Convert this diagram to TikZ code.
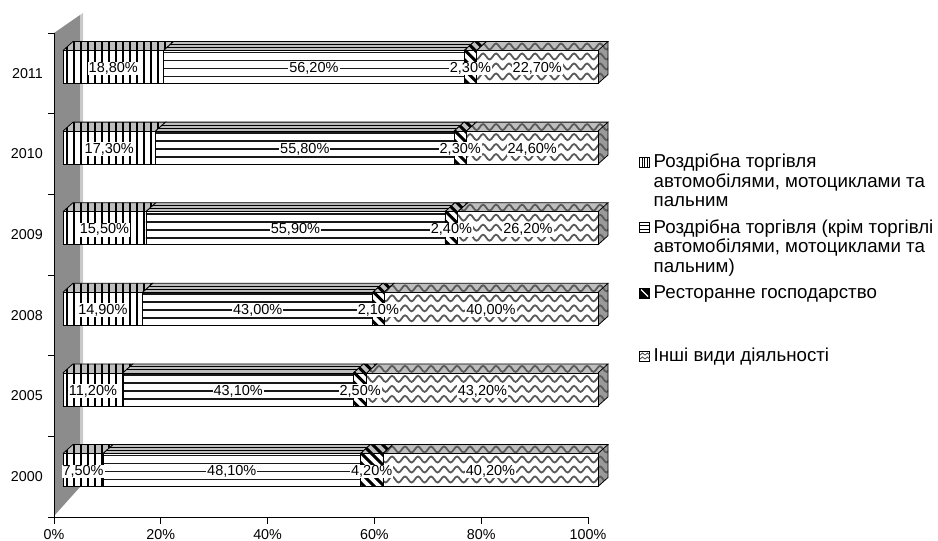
\documentclass[tikz,border=0pt]{standalone}
\usepackage{fontspec}
\setmainfont{Liberation Sans}
\usetikzlibrary{decorations.pathmorphing}
\definecolor{topgray}{HTML}{BEBEBE}
\definecolor{wallgray}{HTML}{8C8C8C}
\definecolor{walllight}{HTML}{C8C8C8}
\definecolor{sidegray}{HTML}{9A9A9A}
\definecolor{wavegray}{HTML}{5A5A5A}
\tikzset{
 edge/.style={black, line width=0.8pt},
 vline/.style={black, line width=1.2pt},
 hline/.style={black!90, line width=1.9pt},
 dline/.style={black, line width=3pt},
 wline/.style={wavegray, line width=1.8pt, decorate, decoration={snake, segment length=13pt, amplitude=3pt}},
 lbl/.style={fill=white, inner sep=1pt, font=\fontsize{14.5}{16}\selectfont},
 axlbl/.style={inner sep=0pt, font=\fontsize{14.3}{16}\selectfont},
 leg/.style={anchor=base west, inner sep=0pt, font=\fontsize{18.7}{20}\selectfont},
}
\newcommand\dpx{10}
\newcommand\dpy{9}
\newcommand\patV[4]{%
 \pgfmathsetmacro\pa{#1+4}\pgfmathsetmacro\pb{#1+11}\pgfmathsetmacro\pc{#2+\dpx+1}%
 \foreach \x in {\pa,\pb,...,\pc}{\draw[vline] (\x,#3-\dpy-1) -- (\x,#4+1);}}
\newcommand\patH[4]{%
 \foreach \k in {0,1,2,3}{\draw[hline] (#1-1,#3+2+8*\k) -- (#2+\dpx+1,#3+2+8*\k);}
 \draw[black, line width=1pt] (#1,#3-3) -- (#2+\dpx,#3-3);
 \draw[black, line width=1pt] (#1,#3-6) -- (#2+\dpx,#3-6);}
\newcommand\patD[4]{%
 \pgfmathsetmacro\pa{#1-50}\pgfmathsetmacro\pb{#1-40}\pgfmathsetmacro\pc{#2+\dpx+2}%
 \foreach \x in {\pa,\pb,...,\pc}{\draw[dline] (\x,#3-\dpy-2) -- ++(48,48);}}
\newcommand\patW[4]{%
 \foreach \k in {-1,0,1,2}{\draw[wline] (50,#3+6+10*\k) -- (625,#3+6+10*\k);}}
\newcommand\barseg[6]{%
 \fill[white] (#1,#3) rectangle (#2,#4);
 \fill[topgray] (#1,#3) -- (#1+\dpx,#3-\dpy) -- (#2+\dpx,#3-\dpy) -- (#2,#3) -- cycle;
 \ifnum#6=1 \fill[sidegray] (#2,#3) -- (#2+\dpx,#3-\dpy) -- (#2+\dpx,#4-\dpy) -- (#2,#4) -- cycle;\fi
 \begin{scope}
 \ifnum#6=1
 \clip (#1,#4) -- (#1,#3) -- (#1+\dpx,#3-\dpy) -- (#2+\dpx,#3-\dpy) -- (#2+\dpx,#4-\dpy) -- (#2,#4) -- cycle;
 \else
 \clip (#1,#4) -- (#1,#3) -- (#1+\dpx,#3-\dpy) -- (#2+\dpx,#3-\dpy) -- (#2,#3) -- (#2,#4) -- cycle;
 \fi
 \csname pat#5\endcsname{#1}{#2}{#3}{#4}
 \end{scope}
 \draw[edge] (#1,#3) rectangle (#2,#4);
 \draw[edge] (#1,#3) -- (#1+\dpx,#3-\dpy) -- (#2+\dpx,#3-\dpy) -- (#2,#3);
 \ifnum#6=1 \draw[edge] (#2+\dpx,#3-\dpy) -- (#2+\dpx,#4-\dpy) -- (#2,#4);\fi
}
\newcommand\onebar[9]{%
 \pgfmathsetmacro\xa{63}%
 \pgfmathsetmacro\xb{63+5.35*#3}%
 \pgfmathsetmacro\xc{63+5.35*#4}%
 \pgfmathsetmacro\xd{63+5.35*#5}%
 \pgfmathsetmacro\xz{63+535}%
 \pgfmathsetmacro\yt{#2-16.5}%
 \pgfmathsetmacro\yb{#2+16.5}%
 \barseg{\xa}{\xb}{\yt}{\yb}{V}{0}%
 \barseg{\xb}{\xc}{\yt}{\yb}{H}{0}%
 \barseg{\xc}{\xd}{\yt}{\yb}{D}{0}%
 \barseg{\xd}{\xz}{\yt}{\yb}{W}{1}%
 \node[lbl] (v#1a) at ({(\xa+\xb)/2},#2+1.5) {#6};
 \node[lbl] (v#1b) at ({(\xb+\xc)/2},#2+1.5) {#7};
 \node[lbl] (v#1c) at ({(\xc+\xd)/2},#2+1.5) {#8};
 \node[lbl] (v#1d) at ({(\xd+\xz)/2},#2+1.5) {#9};
}
\begin{document}
\begin{tikzpicture}[x=1pt,y=-1pt]
\useasboundingbox (0,0) rectangle (938,541);
% wall
\fill[wallgray] (54,33) -- (80,15) -- (80,487) -- (54,516) -- cycle;
\fill[walllight] (80,15) -- (83,13) -- (83,485) -- (80,487) -- cycle;
% axes
\draw[black, line width=0.8pt] (54,33) -- (54,517) -- (588,517);
\foreach \k in {0,...,6}{\draw[black, line width=0.8pt] (48,33+80.67*\k) -- (54,33+80.67*\k);}
\foreach \k/\t in {0/0\%,1/20\%,2/40\%,3/60\%,4/80\%,5/100\%}{
 \draw[black, line width=0.8pt] (54+106.8*\k,517) -- ++(0,7);
 \node[axlbl, anchor=base] (x\k) at (54+106.8*\k,539.5) {\t};
}
\foreach \k/\t in {0/2011,1/2010,2/2009,3/2008,4/2005,5/2000}{
 \node[axlbl, anchor=east] (y\t) at (43,73.3+80.67*\k) {\t};
}
% bars
\onebar{2011}{67}{18.8}{75.0}{77.3}{18,80\%}{56,20\%}{2,30\%}{22,70\%}
\onebar{2010}{147.6}{17.3}{73.1}{75.4}{17,30\%}{55,80\%}{2,30\%}{24,60\%}
\onebar{2009}{228.2}{15.5}{71.4}{73.8}{15,50\%}{55,90\%}{2,40\%}{26,20\%}
\onebar{2008}{308.8}{14.9}{57.9}{60.0}{14,90\%}{43,00\%}{2,10\%}{40,00\%}
\onebar{2005}{389.4}{11.2}{54.3}{56.8}{11,20\%}{43,10\%}{2,50\%}{43,20\%}
\onebar{2000}{470}{7.5}{55.6}{59.8}{7,50\%}{48,10\%}{4,20\%}{40,20\%}
% legend markers
\begin{scope}
\draw[black, line width=0.7pt, fill=white] (639.5,157) rectangle (649.5,167);
\foreach \x in {642,644.5,647}{\draw[black, line width=0.8pt] (\x,157) -- (\x,167);}
\end{scope}
\begin{scope}
\draw[black, line width=0.7pt, fill=white] (639.5,222.5) rectangle (649.5,232.5);
\foreach \y in {225.5,229}{\draw[black, line width=0.8pt] (639.5,\y) -- (649.5,\y);}
\end{scope}
\begin{scope}
\fill[black] (639.5,288) rectangle (649.5,298);
\draw[white, line width=1.3pt] (641,289.5) -- (648,296.5);
\draw[black, line width=0.7pt] (639.5,288) rectangle (649.5,298);
\end{scope}
\begin{scope}
\draw[black, line width=0.7pt, fill=white] (639.5,351.5) rectangle (649.5,361.5);
\draw[wavegray, line width=0.9pt] (640,355) -- (642.5,353) -- (645,355) -- (647.5,353) -- (649.5,355);
\draw[wavegray, line width=0.9pt] (640,359) -- (642.5,357) -- (645,359) -- (647.5,357) -- (649.5,359);
\end{scope}
% legend text
\node[leg] (l1a) at (653.5,167.5) {Роздрібна торгівля};
\node[leg] (l1b) at (653.5,187.2) {автомобілями, мотоциклами та};
\node[leg] (l1c) at (653.5,206.9) {пальним};
\node[leg] (l2a) at (653.5,233) {Роздрібна торгівля (крім торгівлі};
\node[leg] (l2b) at (653.5,252.7) {автомобілями, мотоциклами та};
\node[leg] (l2c) at (653.5,272.4) {пальним)};
\node[leg] (l3a) at (653.5,298.5) {Ресторанне господарство};
\node[leg] (l4a) at (653.5,361.5) {Інші види діяльності};
\end{tikzpicture}
\end{document}
